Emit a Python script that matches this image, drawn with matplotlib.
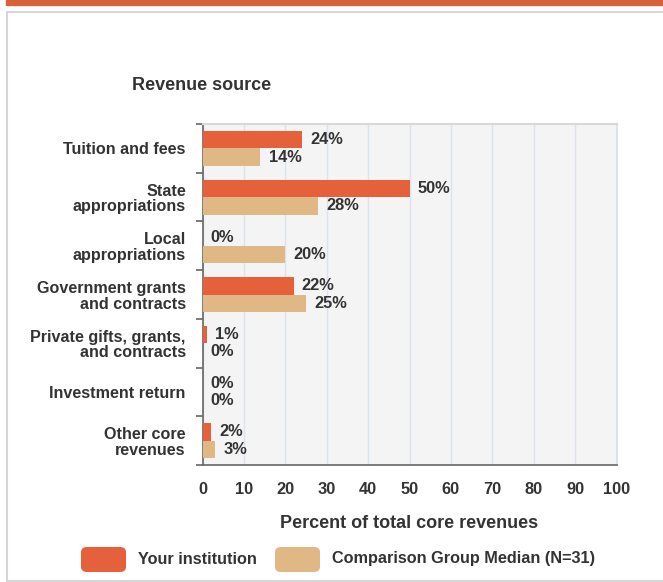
import numpy as np
import matplotlib
matplotlib.use('Agg')
import matplotlib.pyplot as plt
from matplotlib.patches import FancyBboxPatch, Rectangle

# 数据
categories = ['Tuition and fees', 'State\nappropriations', 'Local\nappropriations',
              'Government grants\nand contracts', 'Private gifts, grants,\nand contracts',
              'Investment return', 'Other core\nrevenues']
your_inst = [24, 50, 0, 22, 1, 0, 2]
comp_median = [14, 28, 20, 25, 0, 0, 3]
xticks = [0, 10, 20, 30, 40, 50, 60, 70, 80, 90, 100]

c_inst = '#e4613c'
c_comp = '#e0b886'
txt = '#333333'

plt.rcParams['font.family'] = ['Liberation Sans', 'DejaVu Sans']

fig = plt.figure(figsize=(6.63, 5.82), dpi=100)
W, H = 663, 582

# top band and card border
fig.patches.append(Rectangle((6 / W, 1 - 5 / H), 1, 5 / H, transform=fig.transFigure,
                             color='#d8613d', zorder=-2))
fig.patches.append(Rectangle((6.5 / W, 0.002), 1, 1 - 11.5 / H - 0.002, transform=fig.transFigure,
                             facecolor='white', edgecolor='#d6d6d6', lw=1.5, zorder=-2))

ax = fig.add_axes([202.5 / W, 1 - 465 / H, (616.5 - 202.5) / W, (465 - 124) / H])
ax.set_facecolor('#f4f4f4')

y = np.arange(len(categories))
h = 0.36
ax.barh(y - h / 2, your_inst, height=h, color=c_inst, zorder=3)
ax.barh(y + h / 2, comp_median, height=h, color=c_comp, zorder=3)

for i in range(len(categories)):
    ax.text(your_inst[i] + 2, y[i] - h / 2, '%d%%' % your_inst[i], va='center', ha='left',
            fontsize=11.8, fontweight='bold', color=txt, zorder=4)
    ax.text(comp_median[i] + 2, y[i] + h / 2, '%d%%' % comp_median[i], va='center', ha='left',
            fontsize=11.8, fontweight='bold', color=txt, zorder=4)

ax.set_xlim(0, 100)
ax.set_ylim(len(categories) - 0.5, -0.5)
ax.set_xticks(xticks)
ax.set_xticklabels([str(t) for t in xticks], fontsize=11.8, fontweight='bold', color=txt)
ax.tick_params(axis='x', length=0, pad=12)

ax.set_yticks(y)
ax.set_yticklabels(categories, fontsize=11.6, fontweight='bold', color=txt, linespacing=1.05)
ax.tick_params(axis='y', length=0, pad=12)
# boundary ticks between rows
ax.set_yticks(np.arange(-0.5, len(categories) + 0.5, 1), minor=True)
ax.tick_params(axis='y', which='minor', length=5, width=1.2, color='#666666')

ax.grid(axis='x', color='#dde3ee', lw=1, zorder=1)
ax.spines['left'].set_color('#666666')
ax.spines['left'].set_linewidth(1.2)
ax.spines['bottom'].set_color('#666666')
ax.spines['bottom'].set_linewidth(1.2)
ax.spines['top'].set_color('#d8d8d8')
ax.spines['top'].set_linewidth(1.5)
ax.spines['right'].set_color('#dde3ee')
ax.spines['right'].set_linewidth(1.5)

ax.set_xlabel('Percent of total core revenues', fontsize=13, fontweight='bold', color=txt, labelpad=13)

fig.text(202 / W, 1 - 85 / H, 'Revenue source', ha='center', va='center', fontsize=13,
         fontweight='bold', color=txt)

# legend
for x0, col, label in [(81, c_inst, 'Your institution'), (275, c_comp, 'Comparison Group Median (N=31)')]:
    fig.patches.append(FancyBboxPatch((x0 / W, 1 - 572 / H), 45 / W, 25 / H,
                                      boxstyle='round,pad=0,rounding_size=0.009',
                                      transform=fig.transFigure, facecolor=col, edgecolor='none'))
    fig.text((x0 + 57) / W, 1 - 559 / H, label, ha='left', va='center', fontsize=11.7,
             fontweight='bold', color=txt)

fig.savefig('out.png', dpi=100)
